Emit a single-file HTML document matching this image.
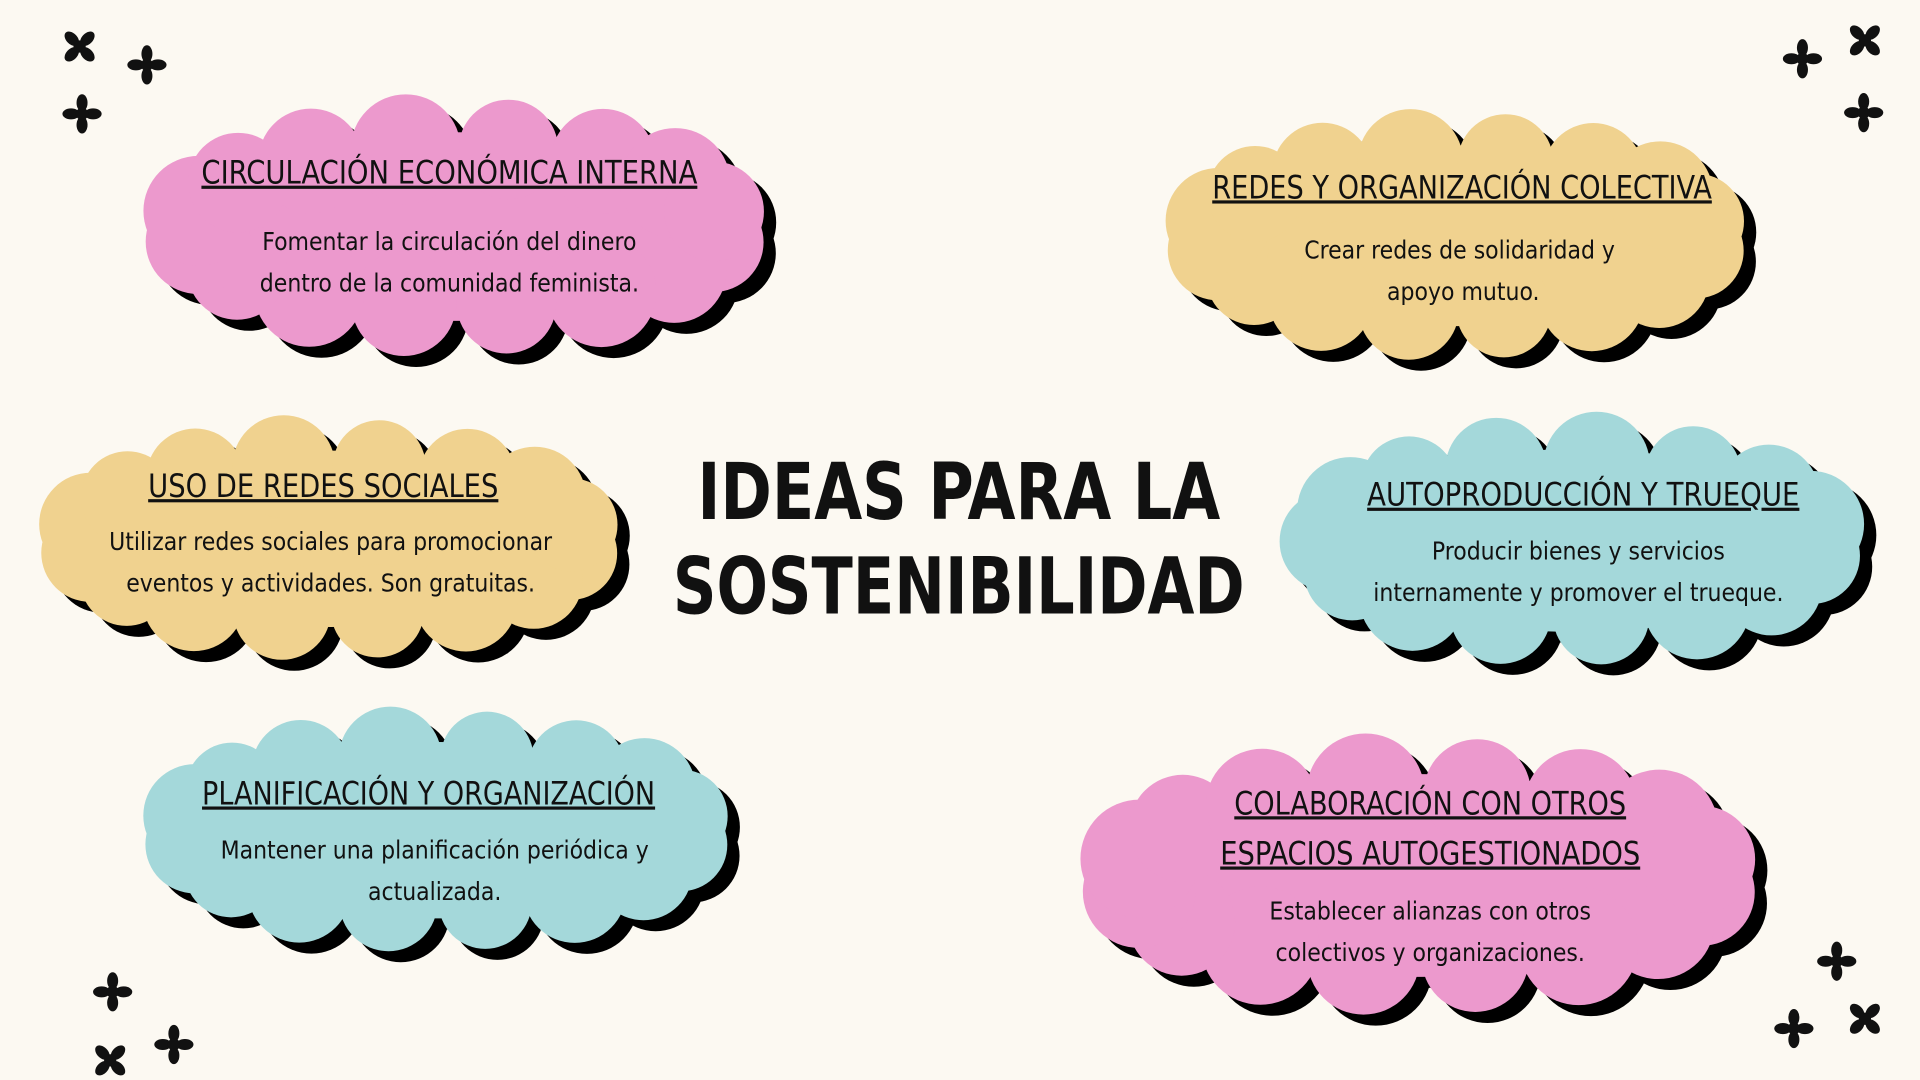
<!DOCTYPE html>
<html><head><meta charset="utf-8"><style>
html,body{margin:0;padding:0;background:#fcf9f2;width:1920px;height:1080px;overflow:hidden}
svg{display:block}
.h{font-family:"Liberation Sans Narrow","DejaVu Sans Condensed","Liberation Sans",sans-serif;font-size:26px;fill:#111;text-anchor:middle;text-decoration:underline}
.b{font-family:"DejaVu Sans Condensed","Liberation Sans",sans-serif;font-size:20px;fill:#111;text-anchor:middle}
.t{font-family:"DejaVu Sans Condensed","Liberation Sans Narrow",sans-serif;font-size:64px;font-weight:bold;fill:#111;text-anchor:middle}
</style></head><body>
<svg id="s" width="1920" height="1080" viewBox="0 0 1568 882" xmlns="http://www.w3.org/2000/svg">
<rect width="1568" height="882" fill="#fcf9f2"/>
<g id="clouds"></g>
<g id="stars" fill="#111"></g>
<text class="h" x="367" y="150" textLength="405" lengthAdjust="spacingAndGlyphs">CIRCULACIÓN ECONÓMICA INTERNA</text>
<text class="b" x="367" y="204">Fomentar la circulación del dinero</text>
<text class="b" x="367" y="238">dentro de la comunidad feminista.</text>
<text class="h" x="1194" y="162" textLength="408" lengthAdjust="spacingAndGlyphs">REDES Y ORGANIZACIÓN COLECTIVA</text>
<text class="b" x="1192" y="211">Crear redes de solidaridad y</text>
<text class="b" x="1195" y="245">apoyo mutuo.</text>
<text class="h" x="264" y="406" textLength="286" lengthAdjust="spacingAndGlyphs">USO DE REDES SOCIALES</text>
<text class="b" x="270" y="449">Utilizar redes sociales para promocionar</text>
<text class="b" x="270" y="483">eventos y actividades. Son gratuitas.</text>
<text class="h" x="1293" y="413" textLength="353" lengthAdjust="spacingAndGlyphs">AUTOPRODUCCIÓN Y TRUEQUE</text>
<text class="b" x="1289" y="457">Producir bienes y servicios</text>
<text class="b" x="1289" y="491">internamente y promover el trueque.</text>
<text class="h" x="350" y="657" textLength="370" lengthAdjust="spacingAndGlyphs">PLANIFICACIÓN Y ORGANIZACIÓN</text>
<text class="b" x="355" y="701">Mantener una planificación periódica y</text>
<text class="b" x="355" y="735">actualizada.</text>
<text class="h" x="1168" y="665" textLength="320" lengthAdjust="spacingAndGlyphs">COLABORACIÓN CON OTROS</text>
<text class="h" x="1168" y="706" textLength="343" lengthAdjust="spacingAndGlyphs">ESPACIOS AUTOGESTIONADOS</text>
<text class="b" x="1168" y="751">Establecer alianzas con otros</text>
<text class="b" x="1168" y="785">colectivos y organizaciones.</text>
<text class="t" x="783" y="424" textLength="427" lengthAdjust="spacingAndGlyphs">IDEAS PARA LA</text>
<text class="t" x="783" y="501" textLength="467" lengthAdjust="spacingAndGlyphs">SOSTENIBILIDAD</text>
</svg>
<script>
var NS="http://www.w3.org/2000/svg";
function cloud(x0,y0,x1,y1,fill){
  var g=document.getElementById("clouds");
  var cx=(x0+x1)/2,cy=(y0+y1)/2,w=x1-x0,h=y1-y0,r=h*0.2;
  var rx=w/2-r,ry=h/2-r;
  [[10,9,"#000"],[0,0,fill]].forEach(function(o){
    var gg=document.createElementNS(NS,"g");gg.setAttribute("fill",o[2]);
    gg.setAttribute("transform","translate("+o[0]+","+o[1]+")");
    var e=document.createElementNS(NS,"ellipse");
    e.setAttribute("cx",cx);e.setAttribute("cy",cy);e.setAttribute("rx",rx+r*0.3);e.setAttribute("ry",ry+r*0.3);gg.appendChild(e);
    var per=2*Math.PI*Math.sqrt((rx*rx+ry*ry)/2);var n=Math.round(per/(1.45*r));
    for(var i=0;i<n;i++){var a=i/n*2*Math.PI+0.2;
      var c=document.createElementNS(NS,"circle");
      c.setAttribute("cx",cx+rx*Math.cos(a));c.setAttribute("cy",cy+ry*Math.sin(a));c.setAttribute("r",r*(0.95+0.1*((i*7)%3)/2));gg.appendChild(c);}
    g.appendChild(gg);
  });
}
cloud(115,78,630,292,"#ec99cd");
cloud(950,90,1430,295,"#f0d28f");
cloud(30,340,510,540,"#f0d28f");
cloud(1045,338,1525,545,"#a4d8da");
cloud(115,578,600,778,"#a4d8da");
cloud(880,600,1440,830,"#ec99cd");
function star(x,y,rot){
  var g=document.getElementById("stars");
  var gg=document.createElementNS(NS,"g");gg.setAttribute("transform","translate("+x+","+y+") rotate("+rot+")");
  [[0,-9,4.5,7],[0,9,4.5,7],[-9,0,7,4.5],[9,0,7,4.5]].forEach(function(p){var e=document.createElementNS(NS,"ellipse");e.setAttribute("cx",p[0]);e.setAttribute("cy",p[1]);e.setAttribute("rx",p[2]);e.setAttribute("ry",p[3]);gg.appendChild(e);});
  var c=document.createElementNS(NS,"circle");c.setAttribute("r",5);gg.appendChild(c);
  g.appendChild(gg);
}
[[65,38,45],[120,53,0],[67,93,0],[1472,48,0],[1523,33,45],[1522,92,0],[92,810,0],[142,853,0],[90,866,45],[1500,785,0],[1465,840,0],[1523,832,45]].forEach(function(s){star(s[0],s[1],s[2]);});
</script>
</body></html>
